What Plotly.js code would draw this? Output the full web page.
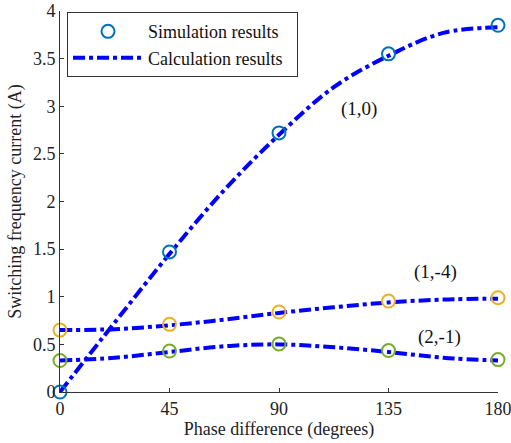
<!DOCTYPE html>
<html><head><meta charset="utf-8">
<script src="https://cdn.plot.ly/plotly-3.0.1.min.js"></script>
<style>html,body{margin:0;padding:0;background:#fff}#c{width:511px;height:443px}</style>
</head><body><div id="c"></div>
<script>
const phase = [0, 45, 90, 135, 180];
const sim10 = [0, 1.47, 2.72, 3.55, 3.85];
const sim14 = [0.65, 0.71, 0.84, 0.955, 0.99];
const sim21 = [0.33, 0.43, 0.505, 0.435, 0.34];
const calcPhase = [0, 22.5, 45, 67.5, 90, 112.5, 135, 157.5, 180];
const calc10 = [0, 0.73, 1.45, 2.12, 2.7, 3.2, 3.53, 3.77, 3.83];
const calc14 = [0.65, 0.66, 0.7, 0.76, 0.83, 0.89, 0.94, 0.97, 0.98];
const calc21 = [0.33, 0.36, 0.42, 0.48, 0.5, 0.47, 0.42, 0.36, 0.33];
const labels = [{t:'(1,0)', x:123, y:2.97}, {t:'(1,-4)', x:154.5, y:1.26}, {t:'(2,-1)', x:156, y:0.58}];

const lineStyle = {color:'#0000FF', width:4, dash:'dashdot', shape:'spline'};
const mk = c => ({symbol:'circle-open', size:13, color:c, line:{width:2, color:c}});
const traces = [
  {x:calcPhase, y:calc10, mode:'lines', line:lineStyle, name:'Calculation results&nbsp;&nbsp;', showlegend:true, legendrank:2, cliponaxis:false},
  {x:calcPhase, y:calc14, mode:'lines', line:lineStyle, showlegend:false, cliponaxis:false},
  {x:calcPhase, y:calc21, mode:'lines', line:lineStyle, showlegend:false, cliponaxis:false},
  {x:phase, y:sim10, mode:'markers', marker:mk('#0072BD'), name:'Simulation results', showlegend:true, legendrank:1, cliponaxis:false},
  {x:phase, y:sim14, mode:'markers', marker:mk('#EDB120'), showlegend:false, cliponaxis:false},
  {x:phase, y:sim21, mode:'markers', marker:mk('#77AC30'), showlegend:false, cliponaxis:false}
];
const font = {family:'"Liberation Serif","Times New Roman",serif', size:18, color:'#222'};
const layout = {
  width:511, height:443,
  margin:{l:60, r:13, t:11, b:51},
  paper_bgcolor:'#fff', plot_bgcolor:'#fff',
  font: font,
  showlegend:true,
  legend:{x:0.016, y:0.997, xanchor:'left', yanchor:'top', bordercolor:'#333', borderwidth:1, bgcolor:'#fff',
          font:{family:font.family, size:18, color:'#111'}, itemwidth:70, tracegroupgap:0},
  xaxis:{range:[0,180], tickvals:phase, ticktext:phase.map(String), ticks:'inside', ticklen:4, tickcolor:'#333',
         showline:true, linecolor:'#333', linewidth:1, showgrid:false, zeroline:false, ticklabeloverflow:'allow',
         title:{text:'Phase difference (degrees)', font:{size:18}, standoff:4}},
  yaxis:{range:[0,4], dtick:0.5, ticks:'inside', ticklen:4, tickcolor:'#333', showline:true, linecolor:'#333', linewidth:1,
         showgrid:false, zeroline:false, tickformat:'~g',
         title:{text:'Switching frequency current (A)', font:{size:18}, standoff:6}},
  annotations: labels.map(l => ({x:l.x, y:l.y, text:l.t, showarrow:false, font:{size:19, color:'#111'}}))
};
Plotly.newPlot('c', traces, layout, {staticPlot:true});
</script></body></html>
